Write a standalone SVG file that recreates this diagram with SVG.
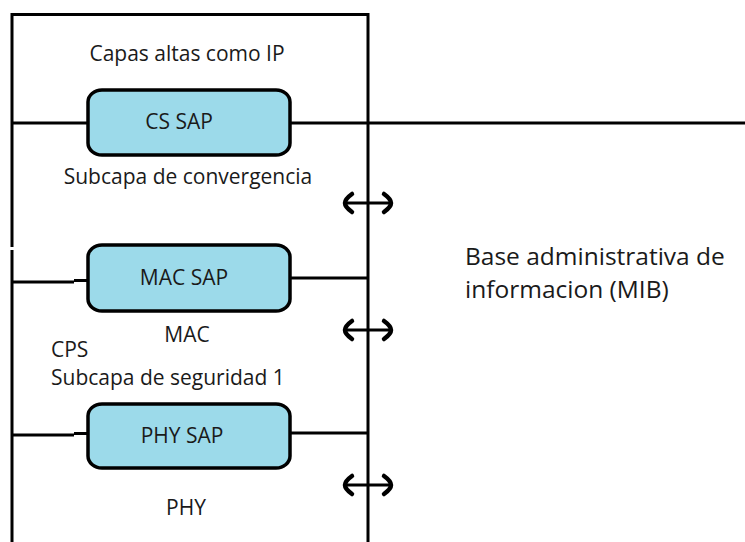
<svg xmlns="http://www.w3.org/2000/svg" width="745" height="542" viewBox="0 0 745 542">
  <style>
    .ln { stroke: #000; stroke-width: 3; fill: none; }
    .sap { fill: #9cdaea; stroke: #000; stroke-width: 3.5; }
    .t { font-family: "Open Sans", "Liberation Sans", sans-serif; font-size: 21px; fill: #1a1a1a; }
    .tc { text-anchor: middle; }
    .big { font-size: 24.5px; }
    .arr { stroke: #000; stroke-width: 3; fill: none; stroke-linecap: round; stroke-linejoin: round; }
    .head { stroke: #000; stroke-width: 4.5; fill: none; stroke-linecap: round; }
  </style>
  <defs>
    <g id="dblarrow">
      <line class="arr" x1="345" y1="0" x2="391" y2="0"/>
      <path class="head" d="M352,-9 Q345,-4 345,0 Q345,4 352,9"/>
      <path class="head" d="M384,-9 Q391,-4 391,0 Q391,4 384,9"/>
    </g>
  </defs>

  <rect width="745" height="542" fill="#fff"/>

  <!-- frame of the protocol stack -->
  <g id="frame">
    <path class="ln" d="M12,542 V250 M12,247 V14.5 H368 V542"/>
  </g>

  <!-- connectors: service access point lines and management arrows -->
  <g id="connectors">
    <path class="ln" d="M12,123 H88 M290,123 H745"/>
    <path class="ln" d="M12,282 H74 M74,280.5 H88 M290,278 H368"/>
    <path class="ln" d="M12,435 H74 M74,433.5 H88 M290,433 H368"/>
    <use href="#dblarrow" y="203"/>
    <use href="#dblarrow" y="330"/>
    <use href="#dblarrow" y="485"/>
  </g>

  <g id="upper-layers">
    <text class="t tc" x="187" y="61">Capas altas como IP</text>
  </g>

  <g id="cs-sap">
    <rect class="sap" x="88" y="90" width="202" height="65" rx="14" ry="12"/>
    <text class="t tc" x="179" y="129" font-size="20.5">CS SAP</text>
  </g>

  <g id="convergence">
    <text class="t tc" x="188" y="184">Subcapa de convergencia</text>
  </g>

  <g id="mac-sap">
    <rect class="sap" x="88" y="245" width="202" height="66" rx="14" ry="12"/>
    <text class="t tc" x="184" y="285" font-size="21.5">MAC SAP</text>
  </g>

  <g id="mac">
    <text class="t tc" x="187" y="342" font-size="22">MAC</text>
  </g>

  <g id="cps">
    <text class="t" x="51" y="357">CPS</text>
    <text class="t" x="51" y="385">Subcapa de seguridad 1</text>
  </g>

  <g id="phy-sap">
    <rect class="sap" x="88" y="404" width="202" height="64" rx="14" ry="12"/>
    <text class="t tc" x="182" y="443" font-size="20.5">PHY SAP</text>
  </g>

  <g id="phy">
    <text class="t tc" x="186" y="515" font-size="20">PHY</text>
  </g>

  <g id="mib">
    <text class="t big" x="465" y="265">Base administrativa de</text>
    <text class="t big" x="465" y="298">informacion (MIB)</text>
  </g>
</svg>
